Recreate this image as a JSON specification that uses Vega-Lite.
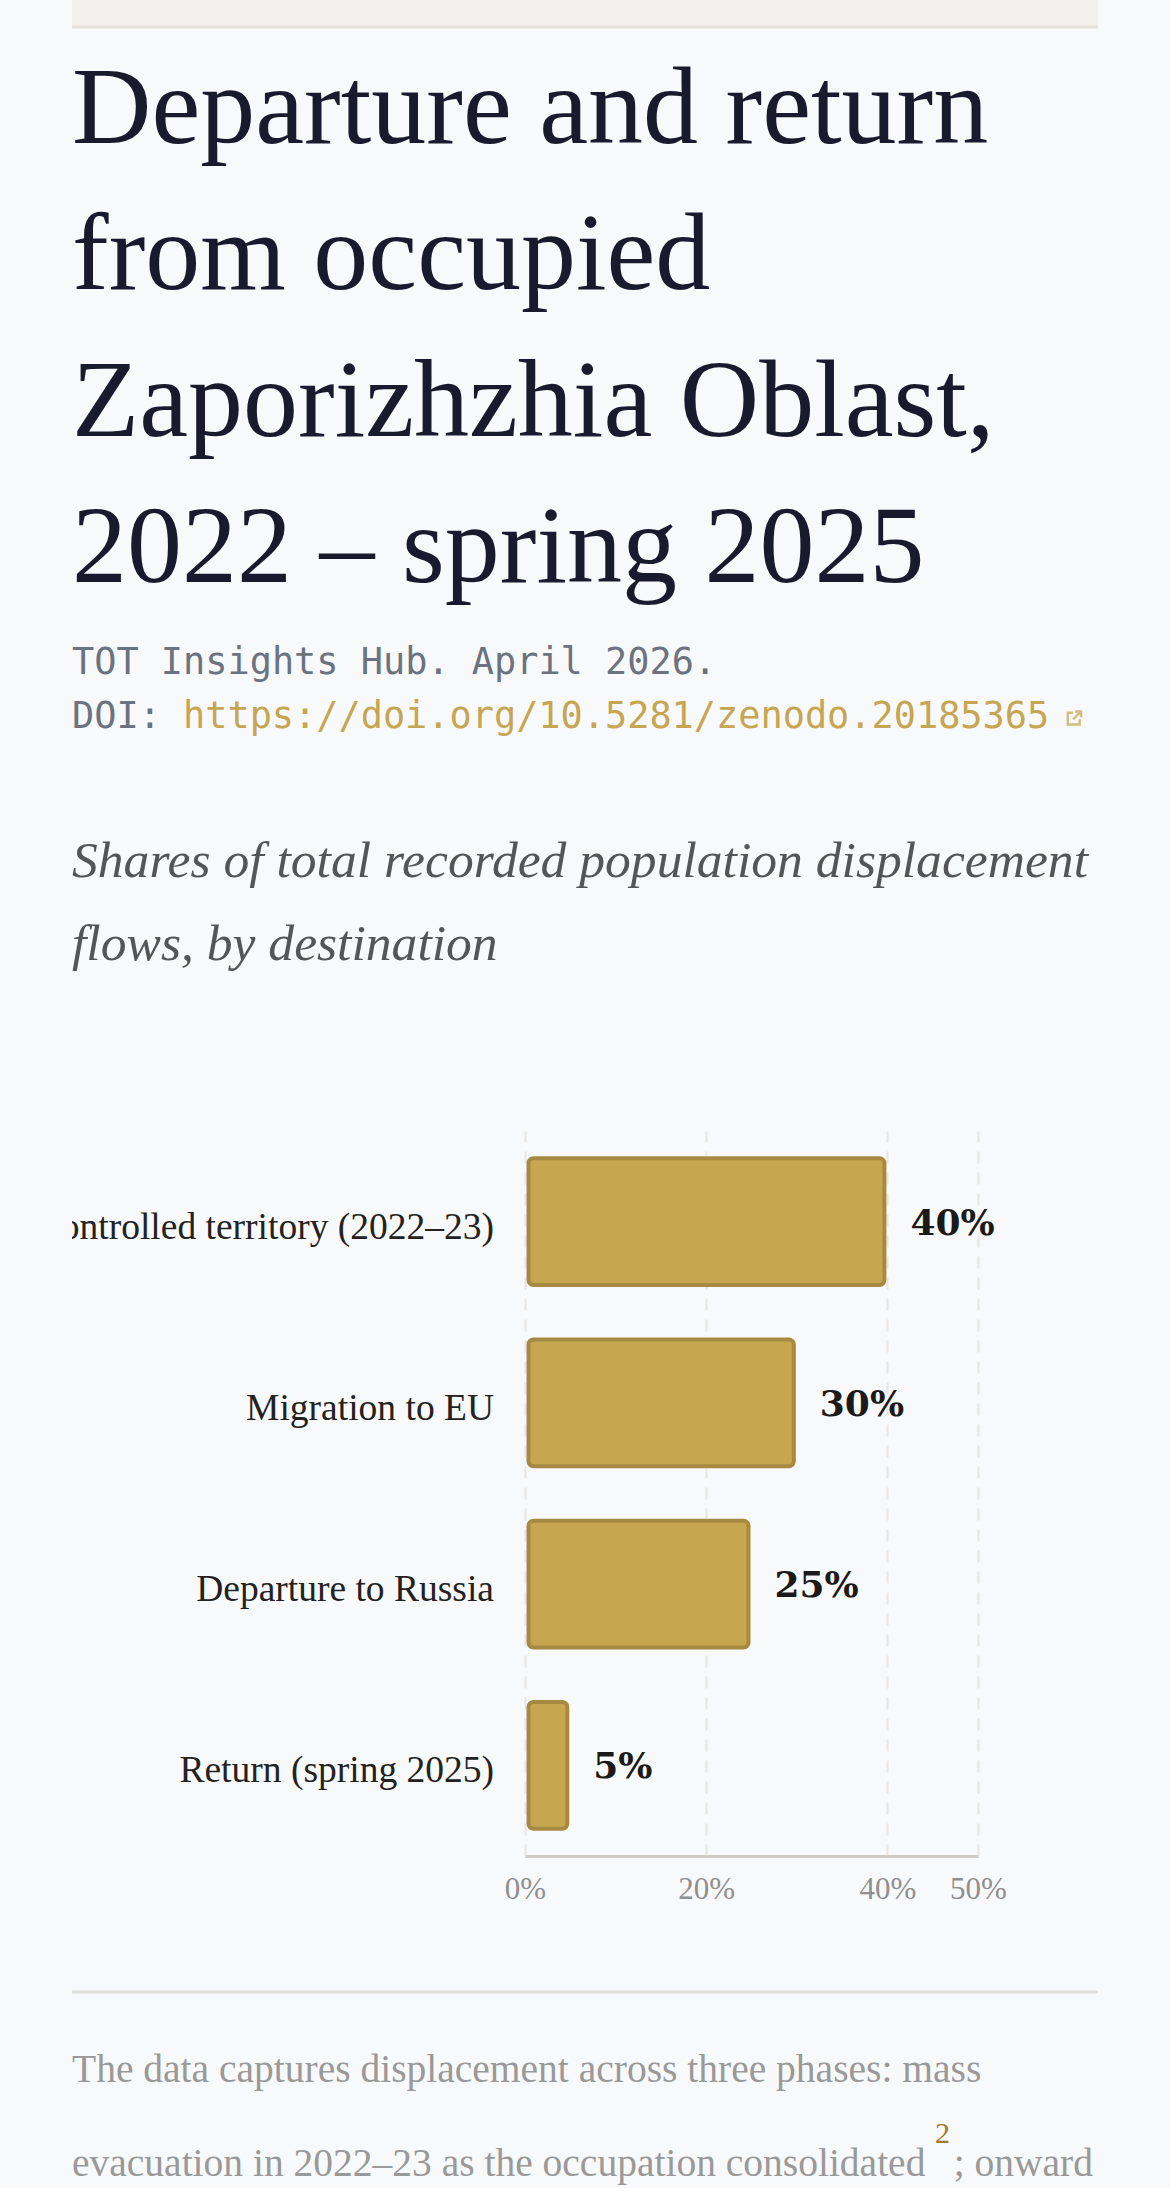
{
  "$schema": "https://vega.github.io/schema/vega-lite/v6.json",
  "background": "#F8F9FB",
  "padding": {"left": 70, "right": 70, "top": 0, "bottom": 0},
  "bounds": "flush",
  "spacing": 0,
  "config": {"view": {"stroke": null}},
  "vconcat": [
    {
      "width": 1026,
      "height": 1131,
      "resolve": {"scale": {"y": "independent"}},
      "layer": [
        {
          "data": {"values": [{"part": "top band"}]},
          "mark": {"type": "rect", "fill": "#F3F1ED"},
          "encoding": {
            "x": {"datum": 0, "type": "quantitative", "scale": {"domain": [0, 1]}, "axis": null},
            "x2": {"datum": 1},
            "y": {"datum": 0, "type": "quantitative", "scale": {"domain": [0, 1], "range": [0, 26]}, "axis": null},
            "y2": {"datum": 1}
          }
        },
        {
          "data": {"values": [{"part": "top rule"}]},
          "mark": {"type": "rule", "stroke": "#E5E2DC", "strokeWidth": 3},
          "encoding": {
            "x": {"datum": 0, "type": "quantitative", "scale": {"domain": [0, 1]}, "axis": null},
            "x2": {"datum": 1},
            "y": {"datum": 1, "type": "quantitative", "scale": {"domain": [0, 1], "range": [0, 27]}, "axis": null}
          }
        },
        {
          "data": {"values": [
            {"line": "Departure and return"},
            {"line": "from occupied"},
            {"line": "Zaporizhzhia Oblast,"},
            {"line": "2022 – spring 2025"}
          ]},
          "mark": {"type": "text", "align": "left", "baseline": "alphabetic", "font": "Liberation Serif", "fontSize": 110, "fill": "#1A1A2E"},
          "encoding": {
            "x": {"datum": 0, "type": "quantitative", "scale": {"domain": [0, 1]}, "axis": null},
            "y": {"field": "line", "type": "ordinal", "sort": null, "axis": null, "scale": {"type": "point", "padding": 0, "range": [143, 582]}},
            "text": {"field": "line"}
          }
        },
        {
          "data": {"values": [
            {"line": "TOT Insights Hub. April 2026."},
            {"line": "DOI:"}
          ]},
          "mark": {"type": "text", "align": "left", "baseline": "alphabetic", "font": "DejaVu Sans Mono", "fontSize": 36.9, "fill": "#6B7280"},
          "encoding": {
            "x": {"datum": 0, "type": "quantitative", "scale": {"domain": [0, 1]}, "axis": null},
            "y": {"field": "line", "type": "ordinal", "sort": null, "axis": null, "scale": {"type": "point", "padding": 0, "range": [674, 728]}},
            "text": {"field": "line"}
          }
        },
        {
          "data": {"values": [{"line": "https://doi.org/10.5281/zenodo.20185365"}]},
          "mark": {"type": "text", "align": "left", "baseline": "alphabetic", "dx": 111, "font": "DejaVu Sans Mono", "fontSize": 36.9, "fill": "#C6A553"},
          "encoding": {
            "x": {"datum": 0, "type": "quantitative", "scale": {"domain": [0, 1]}, "axis": null},
            "y": {"field": "line", "type": "ordinal", "axis": null, "scale": {"type": "point", "padding": 0, "range": [728, 728]}},
            "text": {"field": "line"}
          }
        },
        {
          "data": {"values": [{"part": "external link icon"}]},
          "mark": {
            "type": "point",
            "filled": false,
            "stroke": "#C6A553",
            "strokeWidth": 2.5,
            "size": 700,
            "shape": "M-0.1,-0.4 L-0.5,-0.4 L-0.5,0.5 L0.4,0.5 L0.4,0.1 M0.05,-0.5 L0.5,-0.5 L0.5,-0.05 M0.5,-0.5 L-0.1,0.1"
          },
          "encoding": {
            "x": {"datum": 0.977, "type": "quantitative", "scale": {"domain": [0, 1]}, "axis": null},
            "y": {"field": "part", "type": "ordinal", "axis": null, "scale": {"type": "point", "padding": 0, "range": [718, 718]}}
          }
        },
        {
          "data": {"values": [
            {"line": "Shares of total recorded population displacement"},
            {"line": "flows, by destination"}
          ]},
          "mark": {"type": "text", "align": "left", "baseline": "alphabetic", "font": "Liberation Serif", "fontStyle": "italic", "fontSize": 51.6, "fill": "#555555"},
          "encoding": {
            "x": {"datum": 0, "type": "quantitative", "scale": {"domain": [0, 1]}, "axis": null},
            "y": {"field": "line", "type": "ordinal", "sort": null, "axis": null, "scale": {"type": "point", "padding": 0, "range": [877, 960]}},
            "text": {"field": "line"}
          }
        }
      ]
    },
    {
      "bounds": "flush",
      "spacing": 31,
      "hconcat": [
        {
          "width": 422,
          "height": 725,
          "data": {"values": [
            {"destination": "Departure to Ukrainian-controlled territory (2022–23)"},
            {"destination": "Migration to EU"},
            {"destination": "Departure to Russia"},
            {"destination": "Return (spring 2025)"}
          ]},
          "mark": {"type": "text", "align": "right", "baseline": "alphabetic", "dy": 17, "clip": true, "font": "Liberation Serif", "fontSize": 37.5, "fill": "#222222"},
          "encoding": {
            "x": {"datum": 1, "type": "quantitative", "scale": {"domain": [0, 1]}, "axis": null},
            "y": {"field": "destination", "type": "nominal", "sort": null, "axis": null, "scale": {"paddingInner": 0.3, "paddingOuter": 0.15}},
            "text": {"field": "destination"}
          }
        },
        {
          "width": 453,
          "height": 725,
          "data": {"values": [
            {"destination": "Departure to Ukrainian-controlled territory (2022–23)", "share": 0.4},
            {"destination": "Migration to EU", "share": 0.3},
            {"destination": "Departure to Russia", "share": 0.25},
            {"destination": "Return (spring 2025)", "share": 0.05}
          ]},
          "encoding": {
            "x": {
              "field": "share",
              "type": "quantitative",
              "stack": null,
              "scale": {"domain": [0, 0.5]},
              "axis": {
                "values": [0, 0.2, 0.4, 0.5],
                "format": ".0%",
                "title": null,
                "grid": true,
                "gridColor": "#E8E6E1",
                "gridWidth": 2,
                "gridDash": [12, 9],
                "domainColor": "#CFCCC7",
                "domainWidth": 3,
                "ticks": false,
                "labelFont": "Liberation Serif",
                "labelFontSize": 31,
                "labelColor": "#8F8F8F",
                "labelPadding": 18,
                "labelFlush": false,
                "labelOverlap": false
              }
            },
            "y": {"field": "destination", "type": "nominal", "sort": null, "axis": null, "scale": {"paddingInner": 0.3, "paddingOuter": 0.15}}
          },
          "layer": [
            {
              "mark": {"type": "bar", "fill": "#C6A64F", "stroke": "#A68A43", "strokeWidth": 4, "cornerRadius": 5, "xOffset": -3, "x2Offset": 3.5},
              "encoding": {"x2": {"datum": 0}}
            },
            {
              "mark": {"type": "text", "align": "left", "baseline": "alphabetic", "dx": 23, "dy": 13, "font": "DejaVu Serif", "fontWeight": "bold", "fontSize": 36, "fill": "#1A1A1A"},
              "encoding": {"text": {"field": "share", "type": "quantitative", "format": ".0%"}}
            }
          ]
        }
      ]
    },
    {
      "width": 1026,
      "height": 1057,
      "resolve": {"scale": {"y": "independent"}},
      "layer": [
        {
          "data": {"values": [{"part": "divider"}]},
          "mark": {"type": "rule", "stroke": "#DFDDDA", "strokeWidth": 3},
          "encoding": {
            "x": {"datum": 0, "type": "quantitative", "scale": {"domain": [0, 1]}, "axis": null},
            "x2": {"datum": 1},
            "y": {"field": "part", "type": "ordinal", "axis": null, "scale": {"type": "point", "padding": 0, "range": [861, 861]}}
          }
        },
        {
          "data": {"values": [
            {"line": "The data captures displacement across three phases: mass"},
            {"line": "evacuation in 2022–23 as the occupation consolidated"}
          ]},
          "mark": {"type": "text", "align": "left", "baseline": "alphabetic", "font": "Liberation Serif", "fontSize": 39.5, "fill": "#999999"},
          "encoding": {
            "x": {"datum": 0, "type": "quantitative", "scale": {"domain": [0, 1]}, "axis": null},
            "y": {"field": "line", "type": "ordinal", "sort": null, "axis": null, "scale": {"type": "point", "padding": 0, "range": [951, 1045]}},
            "text": {"field": "line"}
          }
        },
        {
          "data": {"values": [{"line": "; onward"}]},
          "mark": {"type": "text", "align": "right", "baseline": "alphabetic", "dx": -5, "font": "Liberation Serif", "fontSize": 39.5, "fill": "#999999"},
          "encoding": {
            "x": {"datum": 1, "type": "quantitative", "scale": {"domain": [0, 1]}, "axis": null},
            "y": {"field": "line", "type": "ordinal", "axis": null, "scale": {"type": "point", "padding": 0, "range": [1045, 1045]}},
            "text": {"field": "line"}
          }
        },
        {
          "data": {"values": [{"line": "2"}]},
          "mark": {"type": "text", "align": "right", "baseline": "alphabetic", "dx": -148, "font": "Liberation Serif", "fontSize": 30, "fill": "#9A7B2F"},
          "encoding": {
            "x": {"datum": 1, "type": "quantitative", "scale": {"domain": [0, 1]}, "axis": null},
            "y": {"field": "line", "type": "ordinal", "axis": null, "scale": {"type": "point", "padding": 0, "range": [1012, 1012]}},
            "text": {"field": "line"}
          }
        }
      ]
    }
  ]
}
